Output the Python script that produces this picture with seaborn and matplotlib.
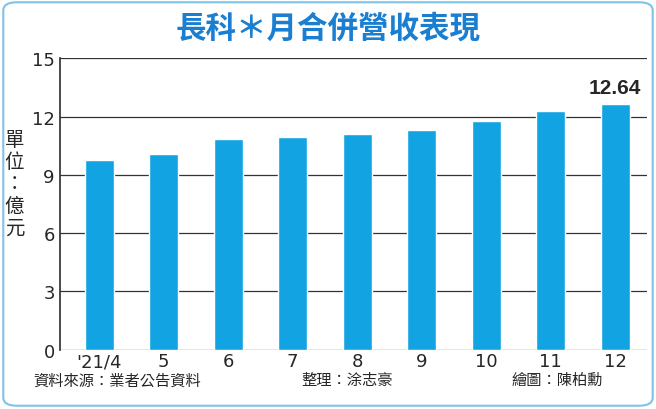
import matplotlib
matplotlib.use("Agg")
import matplotlib.pyplot as plt
import seaborn as sns
import pandas as pd

months = ["'21/4", "5", "6", "7", "8", "9", "10", "11", "12"]
revenue = [9.78, 10.09, 10.86, 10.97, 11.12, 11.33, 11.80, 12.31, 12.64]
y_ticks = [0, 3, 6, 9, 12, 15]

sns.set_theme(style="white")
plt.rcParams["font.family"] = ["Noto Sans CJK TC", "DejaVu Sans"]

df = pd.DataFrame({"month": months, "value": revenue})

fig = plt.figure(figsize=(6.56, 4.10), dpi=100)
ax = fig.add_axes([0.092, 0.145, 0.895, 0.71])
sns.barplot(data=df, x="month", y="value", color="#12a3e3", width=0.45,
            saturation=1, ax=ax, zorder=3)

ax.set_ylim(0, 15)
ax.set_yticks(y_ticks)
ax.set_yticklabels([str(t) for t in y_ticks], fontsize=13, family="Liberation Sans Narrow")
ax.tick_params(axis="x", labelsize=13, length=0, pad=2)
ax.tick_params(axis="y", length=0, pad=4)
for t in ax.get_xticklabels():
    t.set_family("Liberation Sans Narrow")
ax.grid(axis="y", color="#333333", linewidth=0.9, zorder=0)
ax.set_xlabel("")
ax.set_ylabel("")
for s in ["top", "right", "bottom"]:
    ax.spines[s].set_visible(False)
ax.spines["left"].set_color("#333333")
ax.set_xlim(-0.6, len(months) - 0.5)

ax.text(len(months) - 1, revenue[-1] + 0.35, f"{revenue[-1]:.2f}", ha="center", va="bottom",
        fontsize=15, fontweight="bold", family="Liberation Sans")

fig.text(0.5, 0.93, "長科＊月合併營收表現", ha="center", va="center",
         fontsize=22, fontweight="bold", color="#1a7fd0")
fig.text(0.022, 0.55, "單\n位\n：\n億\n元", ha="center", va="center",
         fontsize=14, linespacing=1.05)
fig.text(0.05, 0.06, "資料來源：業者公告資料", fontsize=11)
fig.text(0.46, 0.06, "整理：涂志豪", fontsize=11)
fig.text(0.78, 0.06, "繪圖：陳柏勳", fontsize=11)

fig.add_artist(matplotlib.patches.FancyBboxPatch((0.005, 0.008), 0.99, 0.984,
               boxstyle="round,pad=0,rounding_size=0.02", transform=fig.transFigure,
               fill=False, edgecolor="#7fc4e8", linewidth=1.5))

fig.savefig("out.png", dpi=100)
